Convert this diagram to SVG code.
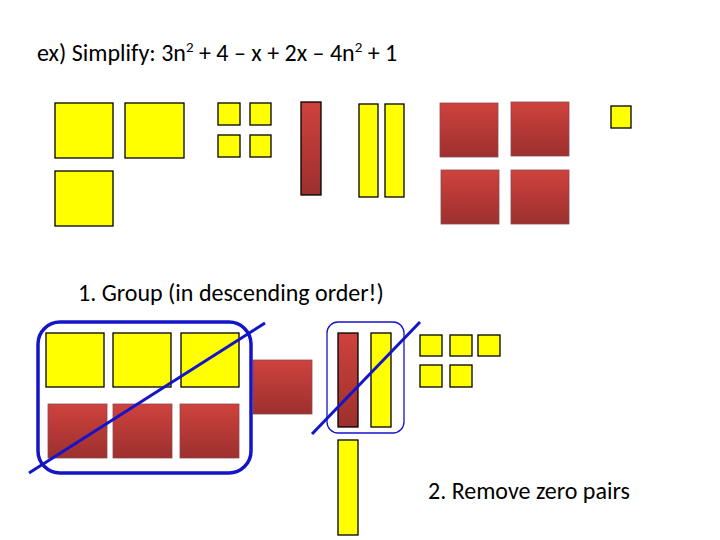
<svg xmlns="http://www.w3.org/2000/svg" width="720" height="540" viewBox="0 0 720 540">
<defs>
<linearGradient id="rg" x1="0" y1="0" x2="0" y2="1"><stop offset="0" stop-color="#cf423d"/><stop offset="1" stop-color="#9c302e"/></linearGradient>
<style>
.y{fill:#ffff00;stroke:#000;stroke-width:1.3}
.r{fill:url(#rg);stroke:#8a4a55;stroke-width:0.8}
.rb{fill:url(#rg);stroke:#000;stroke-width:1.3}
.t{font-family:Carlito,"Liberation Sans",sans-serif;font-size:24px;fill:#000}
.b{fill:none;stroke:#1414c8}
</style>
</defs>
<rect width="720" height="540" fill="#fff"/>
<text class="t" x="37" y="61">ex) Simplify:  3n<tspan font-size="15" dy="-9">2</tspan><tspan dy="9"> + 4 – x + 2x – 4n</tspan><tspan font-size="15" dy="-9">2</tspan><tspan dy="9"> + 1</tspan></text>
<g id="top">
<rect class="y" x="55" y="103" width="58" height="55"/>
<rect class="y" x="125" y="103" width="59" height="55"/>
<rect class="y" x="55" y="171" width="58" height="55"/>
<rect class="y" x="218" y="103" width="22" height="22"/>
<rect class="y" x="250" y="103" width="21" height="22"/>
<rect class="y" x="218" y="135" width="22" height="22"/>
<rect class="y" x="250" y="135" width="21" height="22"/>
<rect class="rb" x="301" y="102" width="20" height="93"/>
<rect class="y" x="359" y="104" width="19" height="93"/>
<rect class="y" x="385" y="104" width="19" height="93"/>
<rect class="r" x="440" y="103" width="58" height="54"/>
<rect class="r" x="511" y="102" width="58" height="54"/>
<rect class="r" x="441" y="170" width="58" height="54"/>
<rect class="r" x="511" y="170" width="58" height="54"/>
<rect class="y" x="611" y="106" width="20" height="22"/>
</g>
<text class="t" x="78" y="301">1. Group (in descending order!)</text>
<g id="bottom">
<rect class="y" x="46" y="333" width="58" height="54"/>
<rect class="y" x="113" y="333" width="58" height="54"/>
<rect class="y" x="181" y="333" width="58" height="54"/>
<rect class="r" x="48" y="404" width="59" height="54"/>
<rect class="r" x="113" y="404" width="59" height="54"/>
<rect class="r" x="180" y="404" width="59" height="54"/>
<rect class="r" x="253" y="360" width="59" height="54"/>
<rect class="rb" x="338" y="333" width="20" height="94"/>
<rect class="y" x="371" y="333" width="20" height="94"/>
<rect class="y" x="420" y="335" width="22" height="21"/>
<rect class="y" x="450" y="335" width="22" height="21"/>
<rect class="y" x="478" y="335" width="22" height="21"/>
<rect class="y" x="420" y="365" width="22" height="22"/>
<rect class="y" x="450" y="365" width="22" height="22"/>
<rect class="y" x="338" y="440" width="20" height="95"/>
</g>
<g id="connectors">
<rect class="b" x="38" y="322" width="213" height="151" rx="22" stroke-width="3.5"/>
<line class="b" x1="29" y1="473" x2="265" y2="323" stroke-width="3"/>
<rect class="b" x="327" y="322" width="77" height="111" rx="11" stroke-width="1.3" stroke="#1a1a80"/>
<line class="b" x1="312" y1="434" x2="420" y2="322" stroke-width="3"/>
</g>
<text class="t" x="428" y="499">2. Remove zero pairs</text>
</svg>
